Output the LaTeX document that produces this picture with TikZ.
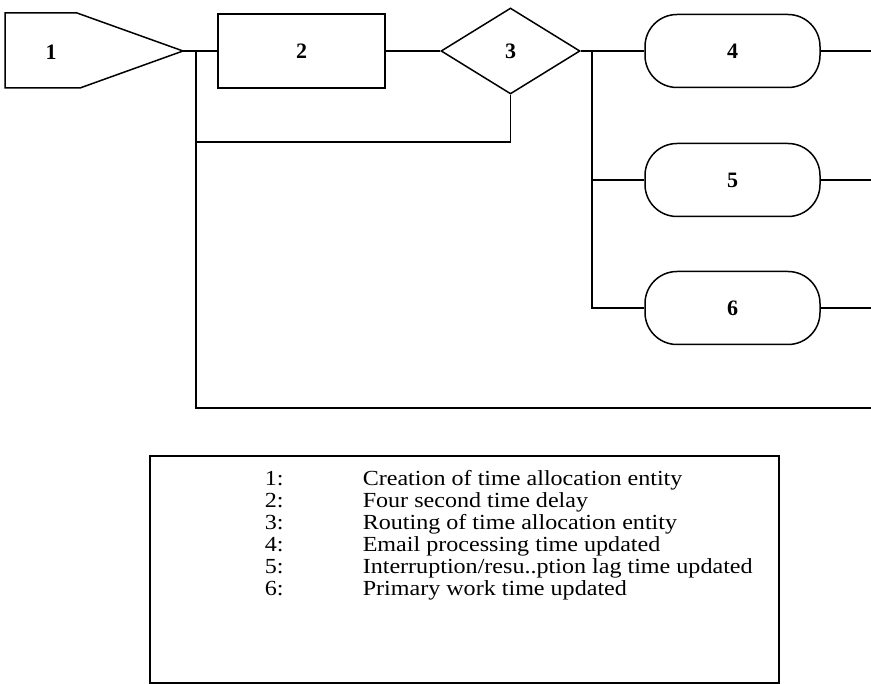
\documentclass[tikz,border=0pt]{standalone}
\usepackage{fontspec}
\setmainfont{Liberation Serif}
\newfontfamily\keyfont[FakeStretch=1.12]{Liberation Serif}
\usetikzlibrary{shapes.geometric,shapes.misc}

\begin{document}
\begin{tikzpicture}[x=1pt,y=-1pt,line width=1.5pt,
  tag/.style={font=\fontsize{22}{24}\selectfont\bfseries},
  delay/.style={draw,rectangle,minimum width=167pt,minimum height=74pt,tag},
  route/.style={draw,diamond,minimum width=139pt,minimum height=86pt,inner sep=0pt,tag},
  update/.style={draw,rounded corners=32pt,minimum width=175pt,minimum height=73pt,tag},
  link/.style={line width=1.3pt},
  keyline/.style={anchor=base west,inner sep=0pt,font=\keyfont\fontsize{21.5}{22}\selectfont}]
  \useasboundingbox (0,0) rectangle (871,684);
  % source block
  \draw (5,13) -- (77,13) -- (183,51) -- (80,88) -- (5,88) -- cycle;
  \coordinate (src) at (183,51);
  \node[tag] (create) at (51,52) {1};
  \node[delay] (delay) at (301.5,51) {2};
  \node[route] (route) at (510.5,51) {3};
  \node[update] (email) at (732.5,51) {4};
  \node[update] (lag) at (732.5,180) {5};
  \node[update] (work) at (732.5,308) {6};
  \coordinate (split) at (196,51);
  \coordinate (back) at (196,142);
  \coordinate (fan) at (592,51);
  \coordinate (outA) at (871,51);
  \coordinate (outB) at (871,180);
  \coordinate (outC) at (871,308);
  \coordinate (outD) at (871,408);
  \draw[link] (src) -- (delay.west);
  \draw[link] (delay.east) -- (route.west);
  \draw[link] (split) |- (outD);
  \draw[link] (route.south) |- (back);
  \draw[link] (route.east) -- (email.west);
  \draw[link] (fan) |- (lag.west);
  \draw[link] (fan) |- (work.west);
  \draw[link] (email.east) -- (outA);
  \draw[link] (lag.east) -- (outB);
  \draw[link] (work.east) -- (outC);
  % key
  \node[draw,line width=1.2pt,minimum width=629pt,minimum height=227pt] (key) at (464.5,569.5) {};
  \foreach \n/\txt [count=\i from 0] in {
      1/Creation of time allocation entity,
      2/Four second time delay,
      3/Routing of time allocation entity,
      4/Email processing time updated,
      5/Interruption\slash resu..ption lag time updated,
      6/Primary work time updated} {
    \node[keyline] (num\n) at (264,486+22*\i) {\n:};
    \node[keyline] (txt\n) at (362,486+22*\i) {\txt};
  }
\end{tikzpicture}
\end{document}
